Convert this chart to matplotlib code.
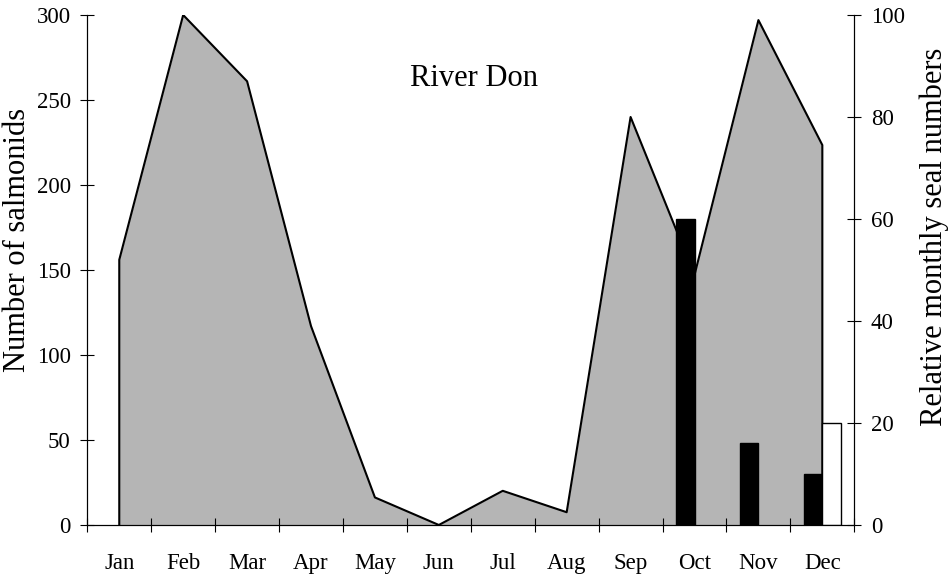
import matplotlib.pyplot as plt
import numpy as np

MONTHS = ["Jan", "Feb", "Mar", "Apr", "May", "Jun",
          "Jul", "Aug", "Sep", "Oct", "Nov", "Dec"]
# relative monthly seal numbers (right axis)
SEALS = [52, 100, 87, 39, 5.4, 0, 6.7, 2.5, 80, 49, 99, 74.5]
# salmonid counts (left axis), black and white bars
SALMON_BLACK = [0, 0, 0, 0, 0, 0, 0, 0, 0, 180, 48, 30]
SALMON_WHITE = [0, 0, 0, 0, 0, 0, 0, 0, 0, 0, 0, 60]

plt.rcParams["font.family"] = ["Liberation Serif", "DejaVu Serif"]

fig = plt.figure(figsize=(9.49, 5.79), dpi=100)
ax = fig.add_axes([0.092, 0.0933, 0.8082, 0.8808])
ax2 = ax.twinx()
ax.set_zorder(ax2.get_zorder() + 1)
ax.patch.set_visible(False)

x = np.arange(len(MONTHS))
seals = np.array(SEALS, dtype=float)

# seal numbers as a shaded area
ax2.fill_between(x, seals, 0, color="#b5b5b5", linewidth=0, zorder=1)
ax2.plot(np.r_[x[0], x, x[-1]], np.r_[0, seals, 0], color="black",
         linewidth=1.5, zorder=2)

# salmonids as paired bars
w = 0.29
black = np.array(SALMON_BLACK, dtype=float)
white = np.array(SALMON_WHITE, dtype=float)
mb = black > 0
mw = white > 0
ax.bar(x[mb] - w / 2, black[mb], width=w, color="black",
       edgecolor="black", linewidth=1)
ax.bar(x[mw] + w / 2, white[mw], width=w, color="white",
       edgecolor="black", linewidth=1)

ax.set_xlim(-0.5, 11.5)
ax.set_ylim(0, 300)
ax2.set_ylim(0, 100)
ax.set_yticks(np.arange(0, 301, 50))
ax2.set_yticks(np.arange(0, 101, 20))

ax.set_xticks(np.arange(-0.5, 12, 1))
ax.set_xticklabels([])
ax.set_xticks(x, minor=True)
ax.set_xticklabels(MONTHS, minor=True)
ax.tick_params(axis="x", which="major", direction="inout", length=10,
               width=0.8)
ax.tick_params(axis="x", which="minor", length=0, pad=20.5, labelsize=16.5)
ax.tick_params(axis="y", direction="inout", length=10, width=0.8,
               pad=7, labelsize=16.5)
ax2.tick_params(axis="y", direction="inout", length=10, width=0.8,
                pad=7, labelsize=16.5)

for a in (ax, ax2):
    a.spines["top"].set_visible(False)
    for s in ("left", "right", "bottom"):
        a.spines[s].set_linewidth(0.8)

fig.text(18 / 949, 1 - 240 / 579, "Number of salmonids", fontsize=22,
         rotation=90, ha="center", va="center")
fig.text(934 / 949, 1 - 237 / 579, "Relative monthly seal numbers",
         fontsize=22, rotation=90, ha="center", va="center")

ax.text(5.55, 258, "River Don", fontsize=22, ha="center", va="baseline")

fig.savefig("out.png", dpi=100)
